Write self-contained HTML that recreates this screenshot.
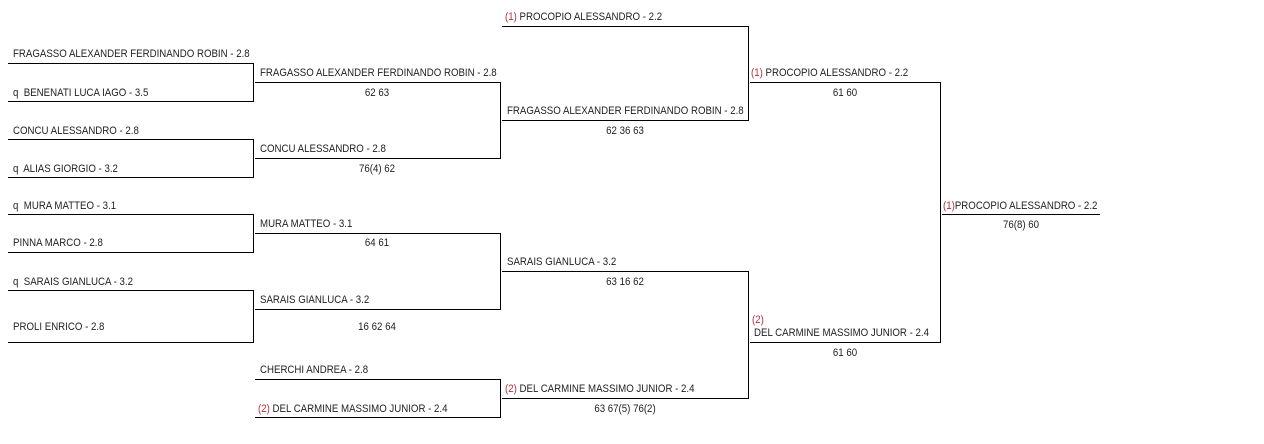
<!DOCTYPE html>
<html><head><meta charset="utf-8"><style>
body{margin:0;background:#fff;width:1264px;height:444px;position:relative;overflow:hidden;font-family:"Liberation Sans",sans-serif;font-size:11px;color:#222}
.t{position:absolute;white-space:nowrap;transform:scaleX(0.88);transform-origin:0 0;line-height:12px;margin-top:1px}
.c{position:absolute;white-space:nowrap;transform:translateX(-50%) scaleX(0.88);line-height:12px;margin-top:1px}
.r{color:#b0303a}
svg{position:absolute;left:0;top:0}
</style></head><body>
<svg width="1264" height="444" stroke="#000" stroke-width="1" fill="none" shape-rendering="crispEdges">
<path d="M8 63.5H253.5V101.5H8 M8 139.5H253.5V177.5H8 M8 214.5H253.5V252.5H8 M8 290.5H253.5V342.5H8"/>
<path d="M255 82.5H500.5V158.5H255 M255 233.5H500.5V309.5H255 M255 379.5H500.5V417.5H255"/>
<path d="M502 26.5H748.5V120.5H502 M502 271.5H748.5V398.5H502"/>
<path d="M750 82.5H940.5V342.5H750"/>
<path d="M942 214.5H1100"/>
</svg>
<div class="t" style="left:13px;top:47px">FRAGASSO ALEXANDER FERDINANDO ROBIN - 2.8</div>
<div class="t" style="left:13px;top:86px">q&nbsp; BENENATI LUCA IAGO - 3.5</div>
<div class="t" style="left:13px;top:124px">CONCU ALESSANDRO - 2.8</div>
<div class="t" style="left:13px;top:162px">q&nbsp; ALIAS GIORGIO - 3.2</div>
<div class="t" style="left:13px;top:199px">q&nbsp; MURA MATTEO - 3.1</div>
<div class="t" style="left:13px;top:236px">PINNA MARCO - 2.8</div>
<div class="t" style="left:13px;top:275px">q&nbsp; SARAIS GIANLUCA - 3.2</div>
<div class="t" style="left:13px;top:320px">PROLI ENRICO - 2.8</div>

<div class="t" style="left:260px;top:66px">FRAGASSO ALEXANDER FERDINANDO ROBIN - 2.8</div>
<div class="c" style="left:377px;top:86px">62 63</div>
<div class="t" style="left:260px;top:142px">CONCU ALESSANDRO - 2.8</div>
<div class="c" style="left:377px;top:162px">76(4) 62</div>
<div class="t" style="left:260px;top:217px">MURA MATTEO - 3.1</div>
<div class="c" style="left:377px;top:236px">64 61</div>
<div class="t" style="left:260px;top:293px">SARAIS GIANLUCA - 3.2</div>
<div class="c" style="left:377px;top:320px">16 62 64</div>
<div class="t" style="left:260px;top:363px">CHERCHI ANDREA - 2.8</div>
<div class="t" style="left:258px;top:402px"><span class="r">(2)</span> DEL CARMINE MASSIMO JUNIOR - 2.4</div>

<div class="t" style="left:505px;top:10px"><span class="r">(1)</span> PROCOPIO ALESSANDRO - 2.2</div>
<div class="t" style="left:507px;top:104px">FRAGASSO ALEXANDER FERDINANDO ROBIN - 2.8</div>
<div class="c" style="left:625px;top:124px">62 36 63</div>
<div class="t" style="left:507px;top:255px">SARAIS GIANLUCA - 3.2</div>
<div class="c" style="left:625px;top:275px">63 16 62</div>
<div class="t" style="left:505px;top:382px"><span class="r">(2)</span> DEL CARMINE MASSIMO JUNIOR - 2.4</div>
<div class="c" style="left:625px;top:402px">63 67(5) 76(2)</div>

<div class="t" style="left:751px;top:66px"><span class="r">(1)</span> PROCOPIO ALESSANDRO - 2.2</div>
<div class="c" style="left:845px;top:86px">61 60</div>
<div class="t r" style="left:752px;top:313px">(2)</div>
<div class="t" style="left:754px;top:326px">DEL CARMINE MASSIMO JUNIOR - 2.4</div>
<div class="c" style="left:845px;top:346px">61 60</div>

<div class="t" style="left:943px;top:199px"><span class="r">(1)</span>PROCOPIO ALESSANDRO - 2.2</div>
<div class="c" style="left:1021px;top:218px">76(8) 60</div>
</body></html>
